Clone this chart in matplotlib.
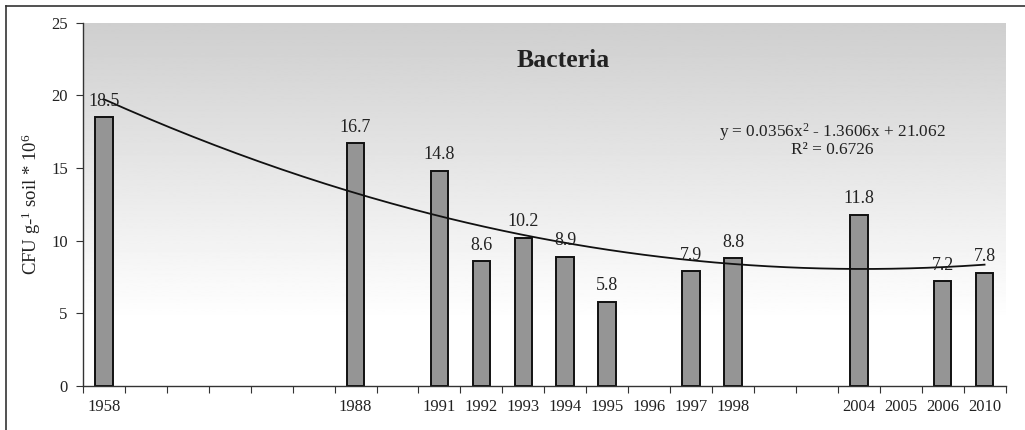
import numpy as np
import matplotlib
matplotlib.use("Agg")
import matplotlib.pyplot as plt
from matplotlib.lines import Line2D

plt.rcParams['font.family'] = ['Liberation Serif', 'DejaVu Serif']
plt.rcParams['mathtext.fontset'] = 'custom'
plt.rcParams['mathtext.rm'] = 'Liberation Serif'
plt.rcParams['mathtext.it'] = 'Liberation Serif:italic'

# category axis (blank slots keep the uneven spacing of the original)
categories = ['1958', '', '', '', '', '', '1988', '', '1991', '1992', '1993',
              '1994', '1995', '1996', '1997', '1998', '', '', '2004', '2005',
              '2006', '2010']
cfu = [18.5, None, None, None, None, None, 16.7, None, 14.8, 8.6, 10.2,
       8.9, 5.8, None, 7.9, 8.8, None, None, 11.8, None, 7.2, 7.8]

# polynomial trendline, x = 1-based category index
trend_coef = [0.0356, -1.3606, 21.062]
trend_eq = r'y = 0.0356x$^{2}$ - 1.3606x + 21.062'
trend_r2 = 'R² = 0.6726'

fig = plt.figure(figsize=(10.25, 4.3), dpi=100)
ax = fig.add_axes([0.081, 0.102, 0.9, 0.845])

n = len(categories)
pos = np.arange(n)

# gradient background
grad_y = np.linspace(25, 0, 300)
shade = np.clip(0.81 + 0.19 * (25 - grad_y) / 20.5, 0, 1)
ax.imshow(shade[:, None], extent=[-0.5, n - 0.5, 0, 25], aspect='auto',
          cmap='gray', vmin=0, vmax=1, zorder=0, interpolation='bilinear')

for i, v in enumerate(cfu):
    if v is None:
        continue
    ax.bar(pos[i], v, width=0.42, color='#959595', edgecolor='#111111',
           linewidth=1.4, zorder=2)
    ax.annotate(f'{v:.1f}', (pos[i], v), xytext=(0, 5.5), textcoords='offset points',
                ha='center', va='bottom', fontsize=13, color='#222222', zorder=4)

xt = np.linspace(1, n, 200)
ax.plot(xt - 1, np.polyval(trend_coef, xt), color='#111111', lw=1.3, zorder=3)

ax.set_xlim(-0.5, n - 0.5)
ax.set_ylim(0, 25)
ax.set_yticks([0, 5, 10, 15, 20, 25])
ax.set_xticks(np.arange(n + 1) - 0.5)
ax.set_xticklabels([])
ax.set_xticks(pos, minor=True)
ax.set_xticklabels(categories, minor=True)
ax.tick_params(axis='x', which='minor', length=0, pad=9, labelsize=12)
ax.tick_params(axis='x', which='major', length=5, direction='out', color='#333333')
ax.tick_params(axis='y', length=5, direction='out', labelsize=12, pad=6, color='#333333')
for lab in ax.get_xticklabels(minor=True) + ax.get_yticklabels():
    lab.set_color('#222222')

for s in ['top', 'right']:
    ax.spines[s].set_visible(False)
for s in ['left', 'bottom']:
    ax.spines[s].set_color('#333333')
    ax.spines[s].set_linewidth(1.0)

ax.set_ylabel(r'CFU g-$^{1}$ soil * 10$^{6}$', fontsize=13.5, color='#222222', labelpad=6)

ax.text(0.52, 0.895, 'Bacteria', transform=ax.transAxes, ha='center', va='center',
        fontsize=18.5, fontweight='bold', color='#222222')
ax.text(0.8126, 0.700, trend_eq, transform=ax.transAxes, ha='center', va='center',
        fontsize=12.4, color='#222222')
ax.text(0.8126, 0.650, trend_r2, transform=ax.transAxes, ha='center', va='center',
        fontsize=12.4, color='#222222')

# frame lines of the original figure
fig.add_artist(Line2D([6 / 1025, 1], [1 - 6 / 430, 1 - 6 / 430], transform=fig.transFigure,
                      color='#333333', lw=1.2))
fig.add_artist(Line2D([6 / 1025, 6 / 1025], [0, 1 - 6 / 430], transform=fig.transFigure,
                      color='#333333', lw=1.2))

fig.savefig('out.png', dpi=100)
